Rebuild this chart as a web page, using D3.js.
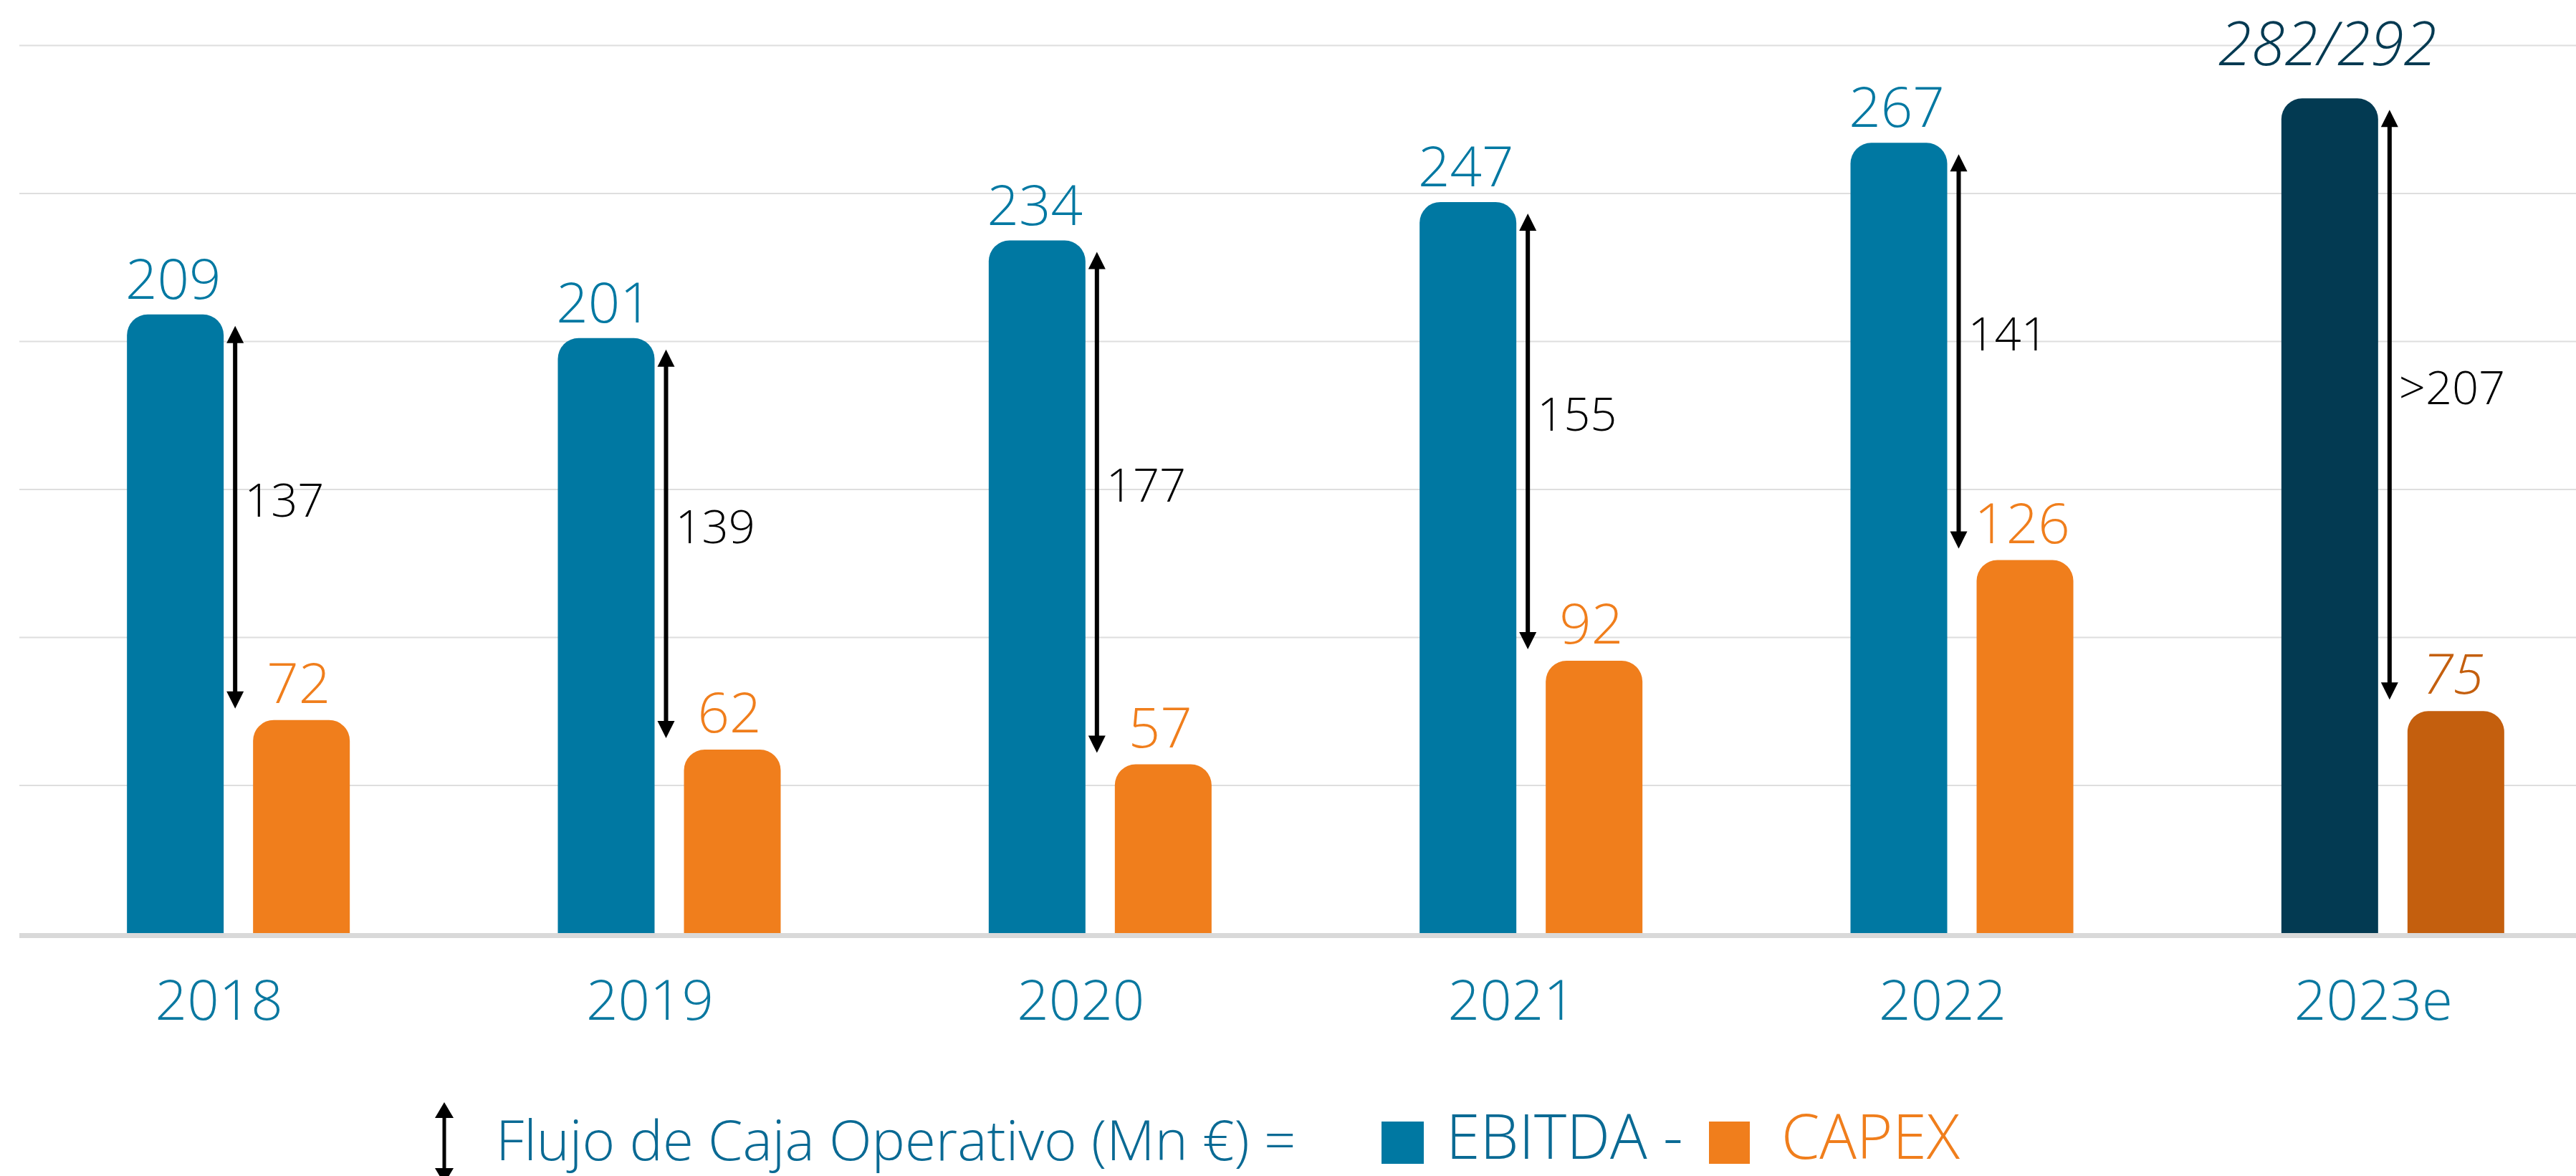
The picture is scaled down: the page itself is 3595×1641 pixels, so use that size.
<!DOCTYPE html>
<html>
<head>
<meta charset="utf-8">
<script src="https://cdn.jsdelivr.net/npm/d3@7"></script>
<style>
  body { margin: 0; background: #fff; }
  svg { display: block; font-family: "Open Sans", "Noto Sans", sans-serif; }
</style>
</head>
<body>
<div id="chart"></div>
<script>
// datos (Mn €)
var years = ["2018", "2019", "2020", "2021", "2022", "2023e"];
var ebitda = [209, 201, 234, 247, 267, 282];
var capex = [72, 62, 57, 92, 126, 75];
var ebitdaLabels = ["209", "201", "234", "247", "267", "282/292"];
var flujoLabels = ["137", "139", "177", "155", "141", ">207"];
var estimado = [false, false, false, false, false, true];
var yTicks = [0, 50, 100, 150, 200, 250, 300];

var W = 3595, H = 1641;
var FONT = "'Open Sans', 'Noto Sans', sans-serif";
var PESO = 350;

var colEbitda = "#0078a2", colEbitdaEst = "#033a52";
var colCapex = "#f07e1c", colCapexEst = "#c45f0e";
var colText = "#0a6a94";

var svg = d3.select("#chart").append("svg")
    .attr("width", W)
    .attr("height", H);

var x = d3.scaleBand()
    .domain(years)
    .range([32, 3640]);

var xs = d3.scaleBand()
    .domain(["EBITDA", "CAPEX"])
    .range([-155.5, 155.5])
    .paddingInner(0.233);

var y = d3.scaleLinear()
    .domain([0, 300])
    .range([1302, 63]);

// grid
svg.append("g")
    .attr("transform", "translate(27,0)")
    .call(d3.axisLeft(y).tickValues(yTicks.slice(1)).tickSize(-(W - 27)).tickFormat(""))
    .call(g => g.select(".domain").remove())
    .selectAll("line")
        .attr("stroke", "#dedede")
        .attr("stroke-width", 2);

// linea base
svg.append("line")
    .attr("x1", 27).attr("x2", W)
    .attr("y1", y(0) + 3.5).attr("y2", y(0) + 3.5)
    .attr("stroke", "#d9d9d9")
    .attr("stroke-width", 7);

var rows = years.map((yr, i) => ({
    yr: yr, ebitda: ebitda[i], capex: capex[i],
    lab: ebitdaLabels[i], flujo: flujoLabels[i], est: estimado[i]
}));

function roundTop(x0, yTop, w, yBase, r) {
    return "M" + x0 + "," + yBase +
        "V" + (yTop + r) +
        "A" + r + "," + r + " 0 0 1 " + (x0 + r) + "," + yTop +
        "H" + (x0 + w - r) +
        "A" + r + "," + r + " 0 0 1 " + (x0 + w) + "," + (yTop + r) +
        "V" + yBase + "Z";
}

var bw = xs.bandwidth();
var R = 29;

var groups = svg.selectAll("g.anio")
    .data(rows)
    .join("g")
        .attr("class", "anio")
        .attr("transform", d => "translate(" + (x(d.yr) + x.bandwidth() / 2) + ",0)");

// barras
groups.append("path")
    .attr("d", d => roundTop(xs("EBITDA"), y(d.ebitda), bw, y(0), R))
    .attr("fill", d => d.est ? colEbitdaEst : colEbitda);

groups.append("path")
    .attr("d", d => roundTop(xs("CAPEX"), y(d.capex), bw, y(0), R))
    .attr("fill", d => d.est ? colCapexEst : colCapex);

// etiquetas de valor
groups.append("text")
    .attr("x", xs("EBITDA") + bw / 2 - 3)
    .attr("y", d => y(d.ebitda) - (d.est ? 46 : 22))
    .attr("text-anchor", "middle")
    .attr("font-family", FONT)
    .attr("font-weight", PESO)
    .attr("font-size", d => d.est ? 84 : 78)
    .attr("font-style", d => d.est ? "italic" : "normal")
    .attr("fill", d => d.est ? colEbitdaEst : colEbitda)
    .text(d => d.lab);

groups.append("text")
    .attr("x", xs("CAPEX") + bw / 2 - 4)
    .attr("y", d => y(d.capex) - 24)
    .attr("text-anchor", "middle")
    .attr("font-family", FONT)
    .attr("font-weight", PESO)
    .attr("font-size", 78)
    .attr("font-style", d => d.est ? "italic" : "normal")
    .attr("fill", d => d.est ? colCapexEst : colCapex)
    .text(d => d.capex);

// flechas flujo de caja
var ax = xs("EBITDA") + bw + 16;
var headW = 12, headL = 24;
groups.each(function(d) {
    var g = d3.select(this);
    var y1 = y(d.ebitda) + 16, y2 = y(d.capex) - 16;
    g.append("line")
        .attr("x1", ax).attr("x2", ax)
        .attr("y1", y1 + headL - 2).attr("y2", y2 - headL + 2)
        .attr("stroke", "#000")
        .attr("stroke-width", 6);
    g.append("path")
        .attr("d", "M" + ax + "," + y1 + "L" + (ax - headW) + "," + (y1 + headL) + "L" + (ax + headW) + "," + (y1 + headL) + "Z")
        .attr("fill", "#000");
    g.append("path")
        .attr("d", "M" + ax + "," + y2 + "L" + (ax - headW) + "," + (y2 - headL) + "L" + (ax + headW) + "," + (y2 - headL) + "Z")
        .attr("fill", "#000");
    g.append("text")
        .attr("x", ax + 13)
        .attr("y", (y1 + y2) / 2 - 25 + 24)
        .attr("font-family", FONT)
        .attr("font-weight", PESO)
        .attr("font-size", 65)
        .attr("fill", "#000")
        .text(d.flujo);
});

// eje x
svg.append("g")
    .attr("transform", "translate(0," + y(0) + ")")
    .call(d3.axisBottom(x).tickSize(0).tickPadding(66))
    .call(g => g.select(".domain").remove())
    .selectAll("text")
        .attr("dx", -27)
        .attr("font-family", FONT)
        .attr("font-weight", PESO)
        .attr("font-size", 78)
        .attr("fill", "#0a78a0");

// leyenda
var legend = svg.append("g").attr("class", "leyenda");
var lx = 620, ly1 = 1538, ly2 = 1652;
legend.append("line")
    .attr("x1", lx).attr("x2", lx)
    .attr("y1", ly1 + 20).attr("y2", ly2 - 20)
    .attr("stroke", "#000").attr("stroke-width", 5);
legend.append("path")
    .attr("d", "M" + lx + "," + ly1 + "L" + (lx - 13) + "," + (ly1 + 22) + "L" + (lx + 13) + "," + (ly1 + 22) + "Z")
    .attr("fill", "#000");
legend.append("path")
    .attr("d", "M" + lx + "," + ly2 + "L" + (lx - 13) + "," + (ly2 - 22) + "L" + (lx + 13) + "," + (ly2 - 22) + "Z")
    .attr("fill", "#000");

legend.append("text")
    .attr("x", 692).attr("y", 1619)
    .attr("font-family", FONT).attr("font-weight", PESO).attr("font-size", 78)
    .attr("fill", colText)
    .text("Flujo de Caja Operativo (Mn €) =");

legend.append("rect")
    .attr("x", 1928).attr("y", 1565).attr("width", 59).attr("height", 59)
    .attr("fill", colEbitda);
legend.append("text")
    .attr("x", 2018).attr("y", 1617)
    .attr("font-family", FONT).attr("font-weight", PESO).attr("font-size", 86)
    .attr("fill", colText)
    .text("EBITDA -");

legend.append("rect")
    .attr("x", 2385).attr("y", 1565).attr("width", 57).attr("height", 59)
    .attr("fill", colCapex);
legend.append("text")
    .attr("x", 2486).attr("y", 1617)
    .attr("font-family", FONT).attr("font-weight", PESO).attr("font-size", 86)
    .attr("fill", colCapex)
    .text("CAPEX");
</script>
</body>
</html>
